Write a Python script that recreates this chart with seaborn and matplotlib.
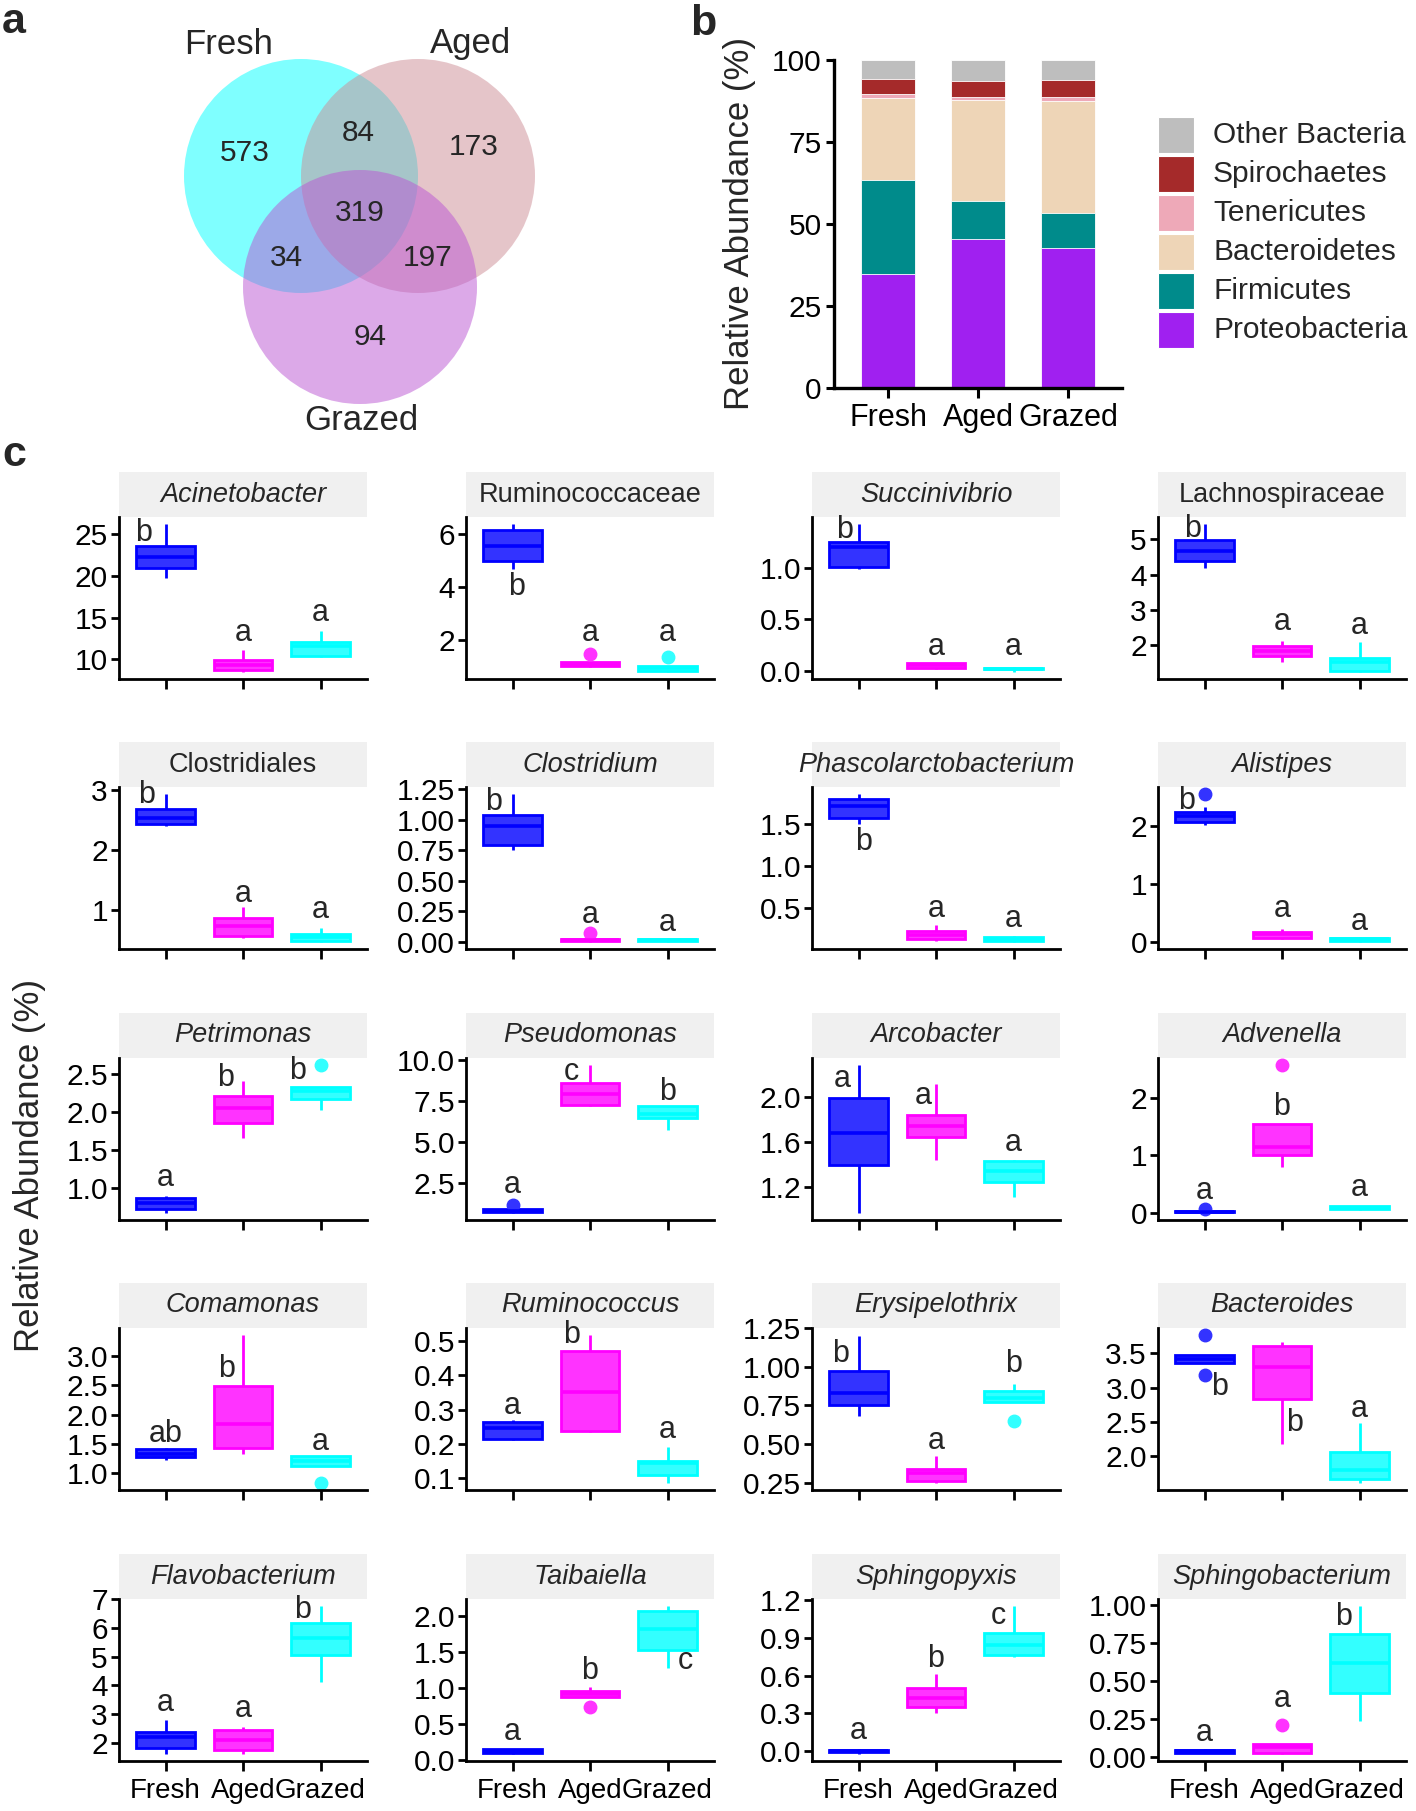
import numpy as np
import pandas as pd
import matplotlib
matplotlib.use("Agg")
import matplotlib.pyplot as plt
import seaborn as sns
from matplotlib.patches import Circle, Rectangle

# ---------------- data ----------------
GROUPS = ["Fresh", "Aged", "Grazed"]

# panel a (Venn counts)
VENN_SETS = ["Fresh", "Aged", "Grazed"]
VENN_REGIONS = ["F", "FA", "A", "FAG", "FG", "AG", "G"]
VENN_COUNTS = [573, 84, 173, 319, 34, 197, 94]

# panel b (relative abundance of phyla, %)
PHYLA = ["Proteobacteria", "Firmicutes", "Bacteroidetes", "Tenericutes", "Spirochaetes", "Other Bacteria"]
PROTEO = [34.7, 45.3, 42.8]
FIRMI = [28.7, 11.6, 10.7]
BACTERO = [24.9, 30.9, 34.1]
TENERI = [1.3, 0.8, 1.0]
SPIRO = [4.7, 4.9, 5.3]
OTHER = [5.7, 6.5, 6.1]

# panel c (taxa boxplots)
TAXA = ["Acinetobacter", "Ruminococcaceae", "Succinivibrio", "Lachnospiraceae",
        "Clostridiales", "Clostridium", "Phascolarctobacterium", "Alistipes",
        "Petrimonas", "Pseudomonas", "Arcobacter", "Advenella",
        "Comamonas", "Ruminococcus", "Erysipelothrix", "Bacteroides",
        "Flavobacterium", "Taibaiella", "Sphingopyxis", "Sphingobacterium"]
NOT_ITALIC = ["Ruminococcaceae", "Lachnospiraceae", "Clostridiales"]

FRESH = [
    [19.7, 21.0, 22.3, 23.6, 26.2],
    [4.69, 5.01, 5.58, 6.17, 6.38],
    [0.99, 1.01, 1.20, 1.25, 1.42],
    [4.19, 4.40, 4.66, 4.98, 5.43],
    [2.41, 2.44, 2.53, 2.69, 2.93],
    [0.75, 0.79, 0.95, 1.04, 1.21],
    [1.51, 1.58, 1.72, 1.81, 1.86],
    [2.01, 2.05, 2.07, 2.12, 2.16, 2.20, 2.23, 2.33, 2.54],
    [0.68, 0.73, 0.80, 0.87, 0.90],
    [0.72, 0.78, 0.85, 0.92, 1.16],
    [0.97, 1.39, 1.68, 1.99, 2.28],
    [0.00, 0.005, 0.01, 0.02, 0.07],
    [1.23, 1.27, 1.33, 1.41, 1.43],
    [0.21, 0.213, 0.245, 0.262, 0.27],
    [0.68, 0.75, 0.83, 0.97, 1.20],
    [3.18, 3.36, 3.41, 3.47, 3.76],
    [1.62, 1.83, 2.19, 2.37, 2.80],
    [0.09, 0.10, 0.13, 0.15, 0.16],
    [-0.02, -0.005, 0.0, 0.005, 0.02],
    [0.027, 0.03, 0.04, 0.05, 0.053],
]
AGED = [
    [8.5, 8.7, 9.3, 9.9, 11.1],
    [1.00, 1.02, 1.09, 1.17, 1.48],
    [0.02, 0.03, 0.05, 0.07, 0.075],
    [1.50, 1.69, 1.84, 1.96, 2.12],
    [0.54, 0.57, 0.74, 0.88, 1.06],
    [0.0, 0.005, 0.012, 0.02, 0.07],
    [0.11, 0.13, 0.18, 0.23, 0.30],
    [0.05, 0.07, 0.13, 0.17, 0.21],
    [1.66, 1.86, 2.05, 2.21, 2.41],
    [7.24, 7.25, 7.96, 8.61, 9.69],
    [1.44, 1.64, 1.74, 1.84, 2.11],
    [0.80, 1.01, 1.14, 1.54, 2.57],
    [1.33, 1.43, 1.84, 2.49, 3.35],
    [0.233, 0.237, 0.35, 0.47, 0.517],
    [0.25, 0.26, 0.31, 0.34, 0.42],
    [2.18, 2.83, 3.30, 3.60, 3.67],
    [1.62, 1.74, 2.09, 2.43, 2.54],
    [0.74, 0.88, 0.92, 0.96, 1.01],
    [0.30, 0.35, 0.42, 0.50, 0.61],
    [0.025, 0.03, 0.066, 0.09, 0.215],
]
GRAZED = [
    [10.3, 10.4, 11.6, 12.1, 13.4],
    [0.82, 0.85, 0.94, 1.03, 1.36],
    [-0.01, 0.012, 0.02, 0.03, 0.035],
    [1.24, 1.26, 1.50, 1.64, 2.07],
    [0.48, 0.49, 0.56, 0.61, 0.71],
    [0.0, 0.003, 0.01, 0.025, 0.03],
    [0.10, 0.11, 0.13, 0.16, 0.17],
    [0.0, 0.01, 0.04, 0.07, 0.08],
    [2.02, 2.17, 2.28, 2.33, 2.61],
    [5.76, 6.47, 6.73, 7.20, 7.24],
    [1.11, 1.24, 1.34, 1.43, 1.44],
    [0.05, 0.06, 0.08, 0.11, 0.12],
    [0.84, 1.13, 1.21, 1.29, 1.30],
    [0.086, 0.108, 0.143, 0.15, 0.19],
    [0.65, 0.77, 0.80, 0.84, 0.89],
    [1.62, 1.68, 1.81, 2.06, 2.48],
    [4.13, 5.05, 5.64, 6.17, 6.76],
    [1.27, 1.52, 1.82, 2.06, 2.13],
    [0.75, 0.76, 0.84, 0.94, 1.15],
    [0.24, 0.42, 0.62, 0.81, 0.99],
]
YTICKS = [
    ["10", "15", "20", "25"], ["2", "4", "6"], ["0.0", "0.5", "1.0"], ["2", "3", "4", "5"],
    ["1", "2", "3"], ["0.00", "0.25", "0.50", "0.75", "1.00", "1.25"], ["0.5", "1.0", "1.5"], ["0", "1", "2"],
    ["1.0", "1.5", "2.0", "2.5"], ["2.5", "5.0", "7.5", "10.0"], ["1.2", "1.6", "2.0"], ["0", "1", "2"],
    ["1.0", "1.5", "2.0", "2.5", "3.0"], ["0.1", "0.2", "0.3", "0.4", "0.5"],
    ["0.25", "0.50", "0.75", "1.00", "1.25"], ["2.0", "2.5", "3.0", "3.5"],
    ["2", "3", "4", "5", "6", "7"], ["0.0", "0.5", "1.0", "1.5", "2.0"],
    ["0.0", "0.3", "0.6", "0.9", "1.2"], ["0.00", "0.25", "0.50", "0.75", "1.00"],
]
LETTERS = [
    ["b", "a", "a"], ["b", "a", "a"], ["b", "a", "a"], ["b", "a", "a"],
    ["b", "a", "a"], ["b", "a", "a"], ["b", "a", "a"], ["b", "a", "a"],
    ["a", "b", "b"], ["a", "c", "b"], ["a", "a", "a"], ["a", "b", "a"],
    ["ab", "b", "a"], ["a", "b", "a"], ["b", "a", "b"], ["b", "b", "a"],
    ["a", "a", "b"], ["a", "b", "c"], ["a", "b", "c"], ["a", "a", "b"],
]
LETTER_Y = [
    [25.2, 13.2, 15.5], [4.0, 2.28, 2.28], [1.37, 0.23, 0.23], [5.29, 2.65, 2.55],
    [2.92, 1.27, 1.0], [1.15, 0.22, 0.15], [1.29, 0.49, 0.37], [2.43, 0.56, 0.34],
    [1.14, 2.44, 2.54], [2.39, 9.29, 8.06], [2.16, 2.01, 1.59], [0.37, 1.84, 0.43],
    [1.67, 2.78, 1.54], [0.31, 0.517, 0.24], [1.08, 0.52, 1.02], [3.01, 2.49, 2.69],
    [3.39, 3.18, 6.65], [0.39, 1.24, 1.38], [0.16, 0.73, 1.07], [0.16, 0.385, 0.92],
]

# ---------------- layout / style ----------------
LETTER_DX = [
    [-0.28, 0, 0], [0.05, 0, 0], [-0.18, 0, 0], [-0.16, 0, 0],
    [-0.24, 0, 0], [-0.24, 0, 0], [0.06, 0, 0], [-0.23, 0, 0],
    [0, -0.22, -0.30], [0, -0.24, 0], [-0.21, -0.17, 0], [0, 0, 0],
    [0, -0.21, 0], [0, -0.24, 0], [-0.23, 0, 0], [0.20, 0.16, 0],
    [0, 0, -0.23], [0, 0, 0.23], [0, 0, -0.20], [0, 0, -0.20],
]
FILLS = ["#3333FF", "#FF33FF", "#33FFFF"]
EDGES = ["#0000FF", "#FF00FF", "#00FFFF"]
PHYLA_COLORS = ["#A020F0", "#008B8B", "#EED5B7", "#EEA9B8", "#A52A2A", "#BEBEBE"]
VENN_COLORS = ["#00FFFF", "#CD8C95", "#BA55D3"]

sns.set_theme(style="white")
plt.rcParams["font.family"] = ["Liberation Sans", "DejaVu Sans"]
plt.rcParams["axes.edgecolor"] = "black"

W, H = 1416, 1811
fig = plt.figure(figsize=(W / 100, H / 100), dpi=100)
fig.patch.set_facecolor("white")


def px_axes(x0, y0, x1, y1):
    return fig.add_axes([x0 / W, 1 - y1 / H, (x1 - x0) / W, (y1 - y0) / H])


def ftext(x, y, s, **kw):
    fig.text(x / W, 1 - y / H, s, **kw)


# ---------------- panel a: Venn ----------------
axv = px_axes(0, 0, 700, 450)
axv.set_xlim(0, 700)
axv.set_ylim(450, 0)
axv.axis("off")
centers = [(301, 176), (418, 176), (360, 287)]
for (cx, cy), col in zip(centers, VENN_COLORS):
    axv.add_patch(Circle((cx, cy), 117, facecolor=col, alpha=0.5, edgecolor="none"))
region_xy = {"F": (245, 153), "FA": (358, 133), "A": (474, 147), "FAG": (360, 213),
             "FG": (286, 258), "AG": (428, 258), "G": (370, 337)}
for reg, n in zip(VENN_REGIONS, VENN_COUNTS):
    x, y = region_xy[reg]
    axv.text(x, y, str(n), ha="center", va="center", fontsize=21.5)
for lab, (x, y) in zip(VENN_SETS, [(229, 45), (471, 43), (361, 421)]):
    axv.text(x, y, lab, ha="center", va="center", fontsize=25)

# ---------------- panel b: stacked bars ----------------
axb = px_axes(834, 60, 1122, 388)
layers = [PROTEO, FIRMI, BACTERO, TENERI, SPIRO, OTHER]
cum = np.cumsum(np.array(layers), axis=0)
for k in range(len(PHYLA) - 1, -1, -1):
    dfb = pd.DataFrame({"group": GROUPS, "value": cum[k]})
    sns.barplot(data=dfb, x="group", y="value", order=GROUPS, color=PHYLA_COLORS[k],
                saturation=1, width=0.6, edgecolor="white", linewidth=0.6, ax=axb)
axb.set_xlim(-0.6, 2.6)
axb.set_ylim(0, 100)
axb.set_yticks([0, 25, 50, 75, 100])
axb.set_xlabel("")
axb.set_ylabel("")
for s in ["top", "right"]:
    axb.spines[s].set_visible(False)
for s in ["left", "bottom"]:
    axb.spines[s].set_linewidth(2.4)
axb.tick_params(axis="y", direction="out", length=6, width=2.2, labelsize=21.5,
                left=True, pad=3, colors="black")
axb.tick_params(axis="x", direction="out", length=7, width=2.2, labelsize=22,
                bottom=True, pad=4, colors="black")
ftext(740, 223, "Relative Abundance (%)", rotation=90, ha="center", va="center", fontsize=25)
# legend (top = Other Bacteria)
for j, k in enumerate(range(len(PHYLA) - 1, -1, -1)):
    y0 = 117 + j * 39
    fig.patches.append(Rectangle((1158 / W, 1 - (y0 + 36) / H), 36 / W, 36 / H,
                                 transform=fig.transFigure, facecolor=PHYLA_COLORS[k],
                                 edgecolor="white", linewidth=0.8))
    ftext(1213, y0 + 18, PHYLA[k], ha="left", va="center", fontsize=21.5)

# ---------------- panel c: boxplots ----------------
COL_LEFT = [119, 466, 812, 1158]
STRIP_TOP = [472, 742, 1013, 1283, 1554]
STRIP_H, PANEL_W, PANEL_H = 45, 248, 162

for i, name in enumerate(TAXA):
    r, c = divmod(i, 4)
    x0 = COL_LEFT[c]
    top = STRIP_TOP[r] + STRIP_H
    ax = px_axes(x0, top, x0 + PANEL_W, top + PANEL_H)
    vals = [FRESH[i], AGED[i], GRAZED[i]]
    for g, (grp, v) in enumerate(zip(GROUPS, vals)):
        d = pd.DataFrame({"group": [grp] * len(v), "value": v})
        sns.boxplot(data=d, x="group", y="value", order=GROUPS, color=FILLS[g],
                    linecolor=EDGES[g], saturation=1, width=0.76, linewidth=2,
                    whis=1.5, fliersize=9,
                    flierprops=dict(marker="o", markerfacecolor=FILLS[g],
                                    markeredgecolor=FILLS[g]),
                    medianprops=dict(color=EDGES[g], linewidth=2.6),
                    showcaps=False, ax=ax)
    allv = [x for v in vals for x in v] + LETTER_Y[i]
    lo, hi = min(allv), max(allv)
    pad = (hi - lo) * 0.05
    ax.set_ylim(lo - pad, hi + pad)
    ax.set_xlim(-0.6, 2.6)
    ticks = [float(t) for t in YTICKS[i]]
    ax.set_yticks(ticks)
    ax.set_yticklabels(YTICKS[i])
    ax.set_xticks([0, 1, 2])
    if r == 4:
        ax.set_xticklabels(GROUPS)
    else:
        ax.set_xticklabels(["", "", ""])
    ax.set_xlabel("")
    ax.set_ylabel("")
    for s in ["top", "right"]:
        ax.spines[s].set_visible(False)
    for s in ["left", "bottom"]:
        ax.spines[s].set_linewidth(2.0)
    ax.tick_params(axis="y", direction="out", length=6, width=2.0, labelsize=21.5,
                   left=True, pad=2, colors="black")
    ax.tick_params(axis="x", direction="out", length=7.5, width=2.0, labelsize=20,
                   bottom=True, pad=5, colors="black")
    # strip
    sh = STRIP_H / PANEL_H
    ax.add_patch(Rectangle((0, 1), 1, sh, transform=ax.transAxes, clip_on=False,
                           facecolor="#F0F0F0", edgecolor="none"))
    ax.text(0.5, 1 + sh / 2, name, transform=ax.transAxes, ha="center", va="center",
            fontsize=19.5, style="normal" if name in NOT_ITALIC else "italic")
    for g in range(3):
        ax.text(g + LETTER_DX[i][g], LETTER_Y[i][g], LETTERS[i][g], ha="center",
                va="center", fontsize=22)

ftext(30, 1166, "Relative Abundance (%)", rotation=90, ha="center", va="center", fontsize=25)

# panel tags
ftext(2, 33, "a", fontsize=31, fontweight="bold", ha="left", va="baseline")
ftext(690, 35, "b", fontsize=31, fontweight="bold", ha="left", va="baseline")
ftext(2, 466, "c", fontsize=31, fontweight="bold", ha="left", va="baseline")

fig.savefig("out.png", dpi=100, facecolor="white")
